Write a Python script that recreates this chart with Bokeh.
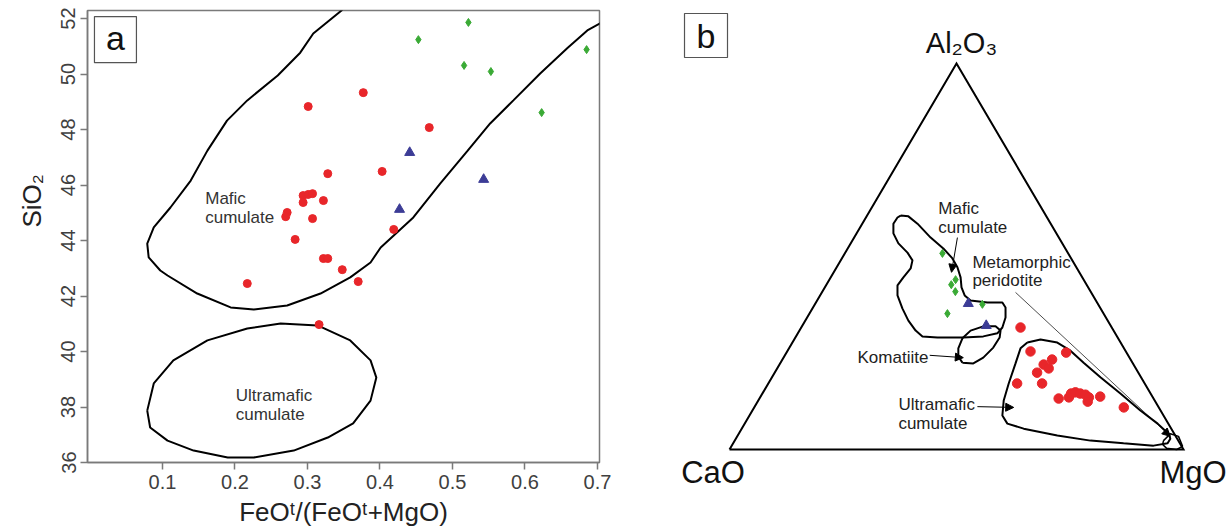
import numpy as np
from bokeh.plotting import figure
from bokeh.layouts import row
from bokeh.models import Range1d, FixedTicker, Arrow, NormalHead, LinearAxis, Title
from bokeh.core.properties import value
from bokeh.embed import file_html
from bokeh.resources import INLINE

FONT = "Liberation Sans"
RED = "#e8262a"
GREEN = "#3aaa35"
BLUE = "#3c3c96"

# ---------------- Panel a data ----------------
x_ticks = [0.1, 0.2, 0.3, 0.4, 0.5, 0.6, 0.7]
x_tick_labels = ["0.1", "0.2", "0.3", "0.4", "0.5", "0.6", "0.7"]
y_ticks = [36, 38, 40, 42, 44, 46, 48, 50, 52]
y_tick_labels = ["36", "38", "40", "42", "44", "46", "48", "50", "52"]

red_a_x = [0.301, 0.377, 0.328, 0.403, 0.468, 0.294, 0.301, 0.307, 0.294, 0.322, 0.272,
           0.270, 0.307, 0.283, 0.419, 0.322, 0.328, 0.348, 0.370, 0.217, 0.316]
red_a_y = [48.83, 49.33, 46.41, 46.49, 48.07, 45.62, 45.66, 45.69, 45.37, 45.44, 45.01,
           44.86, 44.79, 44.04, 44.40, 43.35, 43.35, 42.95, 42.52, 42.45, 40.97]
blue_a_x = [0.441, 0.543, 0.427]
blue_a_y = [47.17, 46.20, 45.12]
green_a_x = [0.522, 0.453, 0.516, 0.553, 0.685, 0.623]
green_a_y = [51.86, 51.24, 50.31, 50.09, 50.88, 48.61]

# field boundaries (panel a)
mafic_a_x = [0.352, 0.347, 0.308, 0.290, 0.259, 0.217, 0.189, 0.162, 0.139, 0.111, 0.088,
             0.079, 0.081, 0.097, 0.107, 0.148, 0.194, 0.226, 0.272, 0.318, 0.359, 0.387,
             0.401, 0.446, 0.483, 0.521, 0.552, 0.584, 0.621, 0.659, 0.686, 0.703, 0.712]
mafic_a_y = [52.5, 52.29, 51.46, 50.77, 49.95, 49.05, 48.32, 47.24, 46.16, 45.19, 44.47,
             43.89, 43.39, 42.92, 42.74, 42.09, 41.59, 41.51, 41.66, 42.09, 42.67, 43.21,
             43.75, 44.83, 46.05, 47.24, 48.22, 49.05, 50.02, 50.95, 51.57, 51.82, 52.0]
ultra_a_x = [0.079, 0.088, 0.115, 0.162, 0.217, 0.263, 0.314, 0.359, 0.387, 0.395, 0.387,
             0.363, 0.328, 0.281, 0.226, 0.190, 0.143, 0.107, 0.083, 0.079]
ultra_a_y = [37.87, 38.85, 39.68, 40.40, 40.83, 41.01, 40.94, 40.40, 39.68, 39.06, 38.23,
             37.41, 36.90, 36.43, 36.18, 36.18, 36.43, 36.79, 37.26, 37.87]

# ---------------- Panel b data (CaO, MgO, Al2O3 %) ----------------
green_b_cao = [27.7, 28.2, 29.8, 29.8, 25.5, 34.4]
green_b_mgo = [21.5, 27.8, 27.5, 29.3, 36.9, 30.4]
green_b_al = [50.8, 44.0, 42.7, 40.9, 37.6, 35.2]

blue_b_cao = [28.5, 27.4]
blue_b_mgo = [33.7, 40.5]
blue_b_al = [37.8, 32.1]

red_b_cao = [20.1, 21.0, 13.3, 17.3, 19.8, 19.2, 22.3, 28.1, 22.6, 20.9, 18.5, 17.5, 16.4,
             15.5, 14.5, 14.1, 14.9, 11.5, 7.7]
red_b_mgo = [48.3, 53.6, 61.6, 59.4, 58.2, 59.8, 57.8, 54.8, 60.3, 65.9, 68.0, 68.0, 68.8,
             70.0, 71.3, 72.4, 72.7, 74.8, 81.4]
red_b_al = [31.6, 25.4, 25.1, 23.3, 22.0, 21.0, 19.9, 17.1, 17.1, 13.2, 13.5, 14.5, 14.8,
            14.5, 14.2, 13.5, 12.4, 13.7, 10.9]

# field boundaries in projected ternary coords (u = MgO + Al2O3/2, v = Al2O3)
mafic_b_u = [37.7, 39.4, 41.4, 44.3, 47.1, 49.1, 50.2, 50.9, 51.1, 51.8, 53.1, 56.8, 60.1,
             60.8, 60.8, 60.1, 59.0, 55.9, 51.5, 45.8, 42.5, 41.0, 39.4, 38.1, 37.0, 37.0,
             38.3, 39.9, 40.3, 39.2, 37.2, 36.1, 36.1, 37.0, 37.7]
mafic_b_v = [60.6, 60.4, 58.5, 54.9, 52.1, 49.5, 47.2, 44.6, 42.0, 39.9, 38.6, 38.1, 38.1,
             36.8, 34.2, 31.6, 30.1, 29.3, 29.0, 29.0, 29.3, 30.8, 33.4, 36.5, 39.9, 42.5,
             44.6, 46.9, 49.0, 51.0, 53.4, 56.0, 58.5, 60.1, 60.6]
komat_b_u = [51.3, 53.7, 55.9, 58.1, 59.5, 59.7, 58.6, 55.9, 53.1, 51.3, 50.4, 50.4, 51.3]
komat_b_v = [22.5, 22.3, 23.8, 26.4, 29.0, 30.8, 31.9, 31.9, 30.8, 28.8, 26.2, 24.1, 22.5]
ultra_b_u = [65.6, 68.5, 72.2, 75.1, 78.0, 81.7, 86.1, 90.5, 94.3, 96.7, 97.1, 96.5, 93.4,
             86.8, 79.5, 72.2, 64.8, 61.2, 60.1, 60.4, 61.5, 63.0, 64.1, 65.6]
ultra_b_v = [27.7, 28.5, 27.7, 25.6, 22.5, 18.7, 14.5, 10.1, 6.7, 4.1, 2.8, 1.6, 1.0,
             1.6, 2.3, 3.6, 5.4, 6.7, 8.8, 12.7, 17.1, 22.3, 26.2, 27.7]
meta_b_u = [95.6, 97.1, 98.9, 99.8, 98.5, 96.3, 95.4, 95.6]
meta_b_v = [2.3, 4.1, 3.4, 0.8, 0.0, 0.3, 1.3, 2.3]

corner_names = ["CaO", "MgO", "Al₂O₃"]


def tern(cao, mgo, al):
    cao, mgo, al = (np.asarray(a, dtype=float) for a in (cao, mgo, al))
    s = cao + mgo + al
    return list(100 * (mgo + al / 2) / s), list(100 * al / s)


TOP, BOTTOM = 10, 69

# ================= Panel a =================
p1 = figure(width=655, height=531, x_range=Range1d(-0.0034, 0.7028),
            y_range=Range1d(36, 52.29), output_backend="svg", toolbar_location=None,
            min_border_left=87, min_border_right=56, min_border_top=TOP,
            min_border_bottom=BOTTOM)
p1.grid.visible = False
p1.outline_line_color = "#7a7a7a"
p1.outline_line_width = 1.5
p1.background_fill_color = "white"
p1.border_fill_color = "white"

for ax in (p1.xaxis[0], p1.yaxis[0]):
    ax.axis_line_color = "#7a7a7a"
    ax.axis_line_width = 1.5
    ax.major_tick_line_color = "#7a7a7a"
    ax.major_tick_line_width = 1.5
    ax.major_tick_out = 7
    ax.major_tick_in = 0
    ax.minor_tick_line_color = None
    ax.major_label_text_font = FONT
    ax.major_label_text_font_size = "20px"
    ax.major_label_text_color = "#404040"
    ax.axis_label_text_font = FONT
    ax.axis_label_text_font_style = "normal"
    ax.axis_label_text_font_size = "26px"
    ax.axis_label_text_color = "#222222"

xa = p1.xaxis[0]
xa.ticker = FixedTicker(ticks=x_ticks)
xa.major_label_overrides = dict(zip(x_ticks, x_tick_labels))
xa.axis_label = "FeOᵗ/(FeOᵗ+MgO)"
xa.major_label_standoff = 5
xa.axis_label_standoff = 5

ya = p1.yaxis[0]
ya.ticker = FixedTicker(ticks=y_ticks)
ya.major_label_overrides = dict(zip(y_ticks, y_tick_labels))
ya.major_label_orientation = "vertical"
ya.major_label_standoff = 5

# y-axis title placed off-centre (as in the original)
p1.add_layout(Title(text="SiO₂", align="left", offset=235, standoff=20,
                    vertical_align="top",
                    text_font=FONT, text_font_size="26px", text_font_style="normal",
                    text_color="#222222"), "left")

p1.line(mafic_a_x, mafic_a_y, line_color="black", line_width=2)
p1.line(ultra_a_x, ultra_a_y, line_color="black", line_width=2)

p1.scatter(green_a_x, green_a_y, marker="diamond", size=8, fill_color=GREEN, line_color=GREEN)
p1.scatter(red_a_x, red_a_y, marker="circle", size=8, fill_color=RED, line_color=RED)
p1.scatter(blue_a_x, blue_a_y, marker="triangle", size=10, fill_color=BLUE, line_color=BLUE)

p1.text(x=[0.159, 0.159, 0.201, 0.201], y=[45.52, 44.83, 38.41, 37.73],
        text=["Mafic", "cumulate", "Ultramafic", "cumulate"],
        text_font=value(FONT), text_font_size="17px", text_color="#333333",
        text_align="left", text_baseline="alphabetic")

p1.quad(left=[0.0062], right=[0.0641], bottom=[50.41], top=[52.07],
        fill_color="white", line_color="#555555", line_width=1.2)
p1.text(x=[0.0352], y=[51.3], text=["a"], text_font=value(FONT), text_font_size="34px",
        text_color="#111111", text_align="center", text_baseline="middle")

# ================= Panel b =================
p2 = figure(width=573, height=531, x_range=Range1d(-16.30, 109.91),
            y_range=Range1d(-3.37, 113.73), output_backend="svg", toolbar_location=None,
            x_axis_location=None, y_axis_location=None,
            min_border_left=0, min_border_right=0, min_border_top=TOP,
            min_border_bottom=BOTTOM)
p2.grid.visible = False
p2.outline_line_color = None
p2.background_fill_color = "white"
p2.border_fill_color = "white"

tri_u, tri_v = tern([100, 0, 0, 100], [0, 100, 0, 0], [0, 0, 100, 0])
p2.line(tri_u, tri_v, line_color="black", line_width=2, line_join="miter")

p2.line(mafic_b_u, mafic_b_v, line_color="black", line_width=2)
p2.line(komat_b_u, komat_b_v, line_color="black", line_width=2)
p2.line(ultra_b_u, ultra_b_v, line_color="black", line_width=2)
p2.line(meta_b_u, meta_b_v, line_color="black", line_width=1.5)

gu, gv = tern(green_b_cao, green_b_mgo, green_b_al)
bu, bv = tern(blue_b_cao, blue_b_mgo, blue_b_al)
ru, rv = tern(red_b_cao, red_b_mgo, red_b_al)
p2.scatter(gu, gv, marker="diamond", size=8, fill_color=GREEN, line_color=GREEN)
p2.scatter(bu, bv, marker="triangle", size=10, fill_color=BLUE, line_color=BLUE)
p2.scatter(ru, rv, marker="circle", size=9.5, fill_color=RED, line_color=RED)

arrows = [
    (50.2, 54.9, 48.9, 45.9, 1.0),
    (44.1, 24.4, 51.5, 23.8, 1.0),
    (54.6, 11.1, 62.6, 10.9, 1.0),
    (63.0, 40.7, 97.1, 3.4, 0.7),
]
for xs, ys, xe, ye, lw in arrows:
    p2.add_layout(Arrow(end=NormalHead(size=8, fill_color="black", line_color="black"),
                        x_start=xs, y_start=ys, x_end=xe, y_end=ye,
                        line_color="black", line_width=lw))

p2.text(x=[46.0, 46.0, 53.5, 53.5, 28.2, 37.2, 37.2],
        y=[62.4, 57.5, 48.5, 43.8, 23.8, 11.7, 6.8],
        text=["Mafic", "cumulate", "Metamorphic", "peridotite", "Komatiite",
              "Ultramafic", "cumulate"],
        text_font=value(FONT), text_font_size="17px", text_color="#222222",
        text_align="left", text_baseline="alphabetic")

# corner labels CaO / MgO drawn as tick labels of a bare axis below the triangle
corner_axis = LinearAxis(ticker=FixedTicker(ticks=[-3.63, 102.1]),
                         major_label_overrides={-3.63: corner_names[0],
                                                102.1: corner_names[1]},
                         axis_line_color=None, major_tick_line_color=None,
                         minor_tick_line_color=None, major_label_standoff=-14,
                         major_label_text_font=FONT, major_label_text_font_size="31px",
                         major_label_text_color="#111111")
p2.add_layout(corner_axis, "below")

p2.text(x=[51.1], y=[105.4], text=[corner_names[2]], text_font=value(FONT),
        text_font_size="29px", text_color="#111111", text_align="center",
        text_baseline="alphabetic")

p2.quad(left=[-9.91], right=[-0.44], bottom=[101.55], top=[112.95],
        fill_color="white", line_color="#555555", line_width=1.2)
p2.text(x=[-5.18], y=[107.25], text=["b"], text_font=value(FONT), text_font_size="34px",
        text_color="#111111", text_align="center", text_baseline="middle")

layout = row(p1, p2)
open("out.html", "w").write(file_html(layout, INLINE))
